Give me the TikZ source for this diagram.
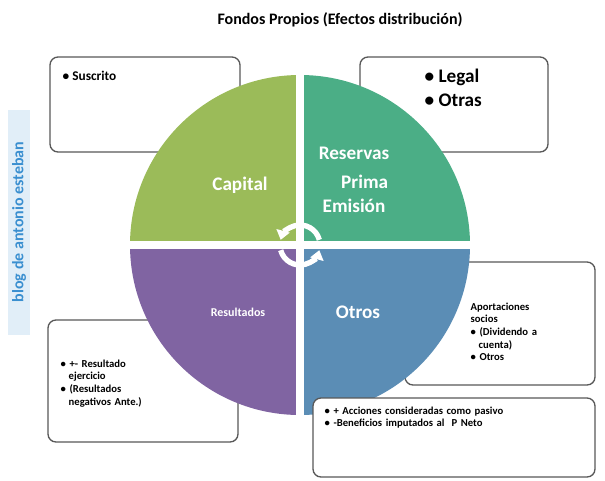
\documentclass[tikz,border=0pt]{standalone}
\usepackage{fontspec}
\setmainfont{Carlito}
\usetikzlibrary{arrows.meta}
\definecolor{cgreen}{HTML}{9BBB59}
\definecolor{cteal}{HTML}{4BAE86}
\definecolor{cpurple}{HTML}{8064A2}
\definecolor{cblue}{HTML}{5B8DB5}
\definecolor{cblog}{HTML}{3A8FD0}
\begin{document}
\begin{tikzpicture}[x=0.75pt,y=-0.75pt,
  box/.style={draw=gray!70!black,line width=1pt,rounded corners=6pt,fill=white},
  item/.style={font=\bfseries\footnotesize,align=left,anchor=north west,text width=#1},
  quad/.style={text=white}]
\useasboundingbox (0,0) rectangle (605,480);
\fill[white] (0,0) rectangle (605,480);
\node[font=\bfseries\large] (title) at (340,20) {Fondos Propios (Efectos distribución)};
\fill[cblog!15] (8,110) rectangle (30,335);
\node[rotate=90,text=cblog,font=\bfseries\large] (blog) at (19,222) {blog de antonio esteban};
% back boxes
\draw[box] (50,57) rectangle (240,152);
\draw[box] (360,57) rectangle (548,152);
\draw[box] (48,320) rectangle (238,442);
\draw[box] (405,262) rectangle (595,385);
% quadrants
\begin{scope}
\clip (300,245) circle[radius=170];
\fill[cgreen] (120,60) rectangle (296,241);
\fill[cteal] (304,60) rectangle (480,241);
\fill[cpurple] (120,249) rectangle (296,430);
\fill[cblue] (304,249) rectangle (480,430);
\end{scope}
% central circular arrows
\draw[white,line width=4pt,-{Triangle[length=7pt,width=10pt]}] (300,245) ++(-15:20) arc[start angle=-15,end angle=-165,radius=20];
\draw[white,line width=4pt,-{Triangle[length=7pt,width=10pt]}] (300,245) ++(165:20) arc[start angle=165,end angle=15,radius=20];
% front box
\draw[box] (313,398) rectangle (595,477);
% quadrant labels
\node[quad,font=\bfseries\Large] (cap) at (240,185) {Capital};
\node[quad,font=\bfseries\Large,align=center] (res) at (354,180) {Reservas\\[4pt]\hspace*{16pt}Prima\\Emisión};
\node[quad,font=\bfseries\small] (resu) at (238,312) {Resultados};
\node[quad,font=\bfseries\Large] (otr) at (358,312) {Otros};
% box texts
\node[font=\bfseries,anchor=west] (t1) at (58,76) {\textbullet\ Suscrito};
\node[font=\bfseries\Large,align=left,anchor=north west] (t2) at (420,64) {\textbullet\ Legal\\\textbullet\ Otras};
\node[item=150pt] (t3) at (56,355) {\textbullet\ +- Resultado\\\hspace*{6pt}ejercicio\\\textbullet\ (Resultados\\\hspace*{6pt}negativos Ante.)};
\node[item=120pt] (t4) at (466,298) {Aportaciones\\socios\\\textbullet\ (Dividendo a\\\hspace*{6pt}cuenta)\\\textbullet\ Otros};
\node[item=250pt] (t5) at (320,402) {\textbullet\ + Acciones consideradas como pasivo\\\textbullet\ -Beneficios imputados al \ P Neto};
\end{tikzpicture}
\end{document}
